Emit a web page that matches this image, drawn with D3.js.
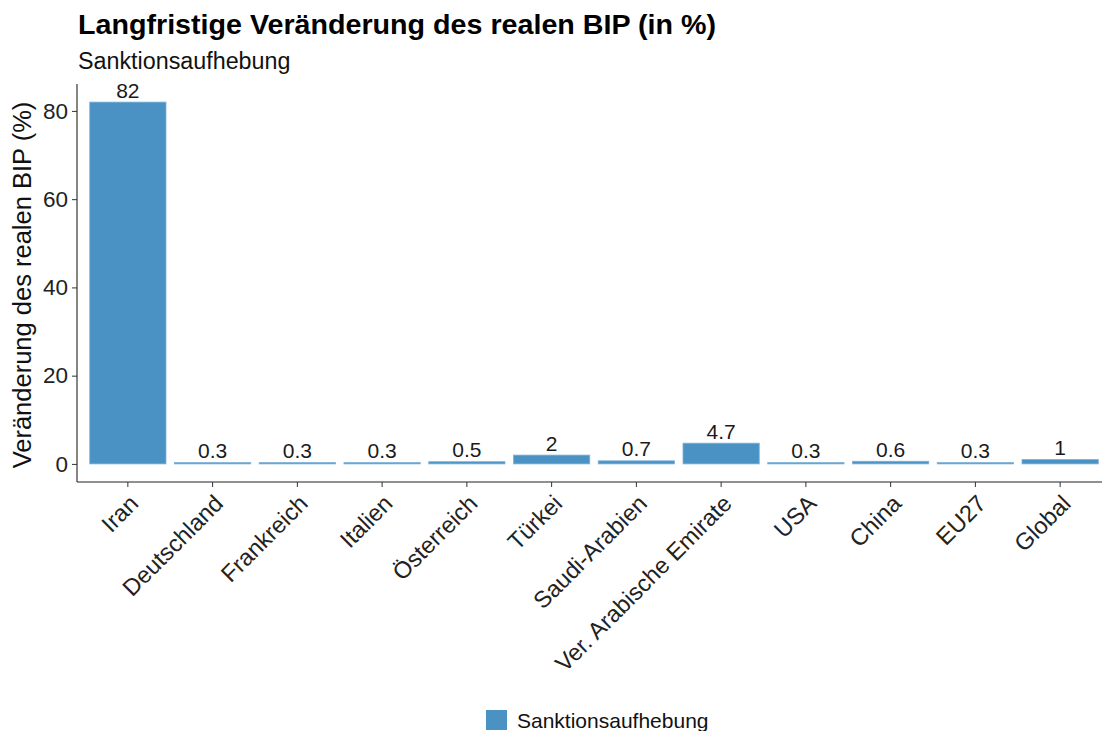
<!DOCTYPE html>
<html><head><meta charset="utf-8">
<script src="https://cdn.jsdelivr.net/npm/d3@7/dist/d3.min.js"></script>
<style>body{margin:0;background:#fff;} text{font-family:"Liberation Sans",Arial,Helvetica,sans-serif;}</style>
</head><body><svg id="c" width="1102" height="731"></svg>
<script>
const categories = ["Iran","Deutschland","Frankreich","Italien","Österreich","Türkei","Saudi-Arabien","Ver. Arabische Emirate","USA","China","EU27","Global"];
const values = [82,0.3,0.3,0.3,0.5,2,0.7,4.7,0.3,0.6,0.3,1];
const labels = ["82","0.3","0.3","0.3","0.5","2","0.7","4.7","0.3","0.6","0.3","1"];
const yTicks = [0,20,40,60,80];
const seriesName = "Sanktionsaufhebung";

(function(){
const svg = d3.select("#c");
const color = "#4a92c4";
const pl = 77, pr = 1111, pt = 84, pb = 482;

const maxV = d3.max(values);
const y = d3.scaleLinear().domain([-0.05*maxV, maxV*1.05]).range([pb, pt]);
const step = (pr-pl)/(categories.length + 0.2);
const x = d3.scaleBand().domain(categories)
  .range([pl + 0.6*step - step/2, pr - 0.6*step + step/2])
  .paddingInner(0.1).paddingOuter(0.05);

svg.selectAll("rect.bar").data(categories).join("rect")
  .attr("class","bar")
  .attr("x", d => x(d))
  .attr("width", x.bandwidth())
  .attr("y", (d,i) => y(values[i]))
  .attr("height", (d,i) => y(0) - y(values[i]))
  .attr("fill", color)
  .attr("stroke", "#7fb2d8").attr("stroke-width", 0.8);

svg.selectAll("text.val").data(categories).join("text")
  .attr("class","val")
  .attr("x", d => x(d) + x.bandwidth()/2)
  .attr("y", (d,i) => y(values[i]) - 4.4)
  .attr("text-anchor","middle")
  .attr("font-size", 21).attr("fill","#1a1a1a")
  .text((d,i) => labels[i]);

const yAxis = d3.axisLeft(y).tickValues(yTicks).tickSize(5).tickPadding(4);
const gy = svg.append("g").attr("transform",`translate(${pl},0)`).call(yAxis);
gy.select(".domain").attr("d", `M0,${pt}V${pb}`).attr("stroke","#222").attr("stroke-width",1.1);
gy.selectAll(".tick line").attr("stroke","#333");
gy.selectAll(".tick text").attr("font-size",22.5).attr("fill","#222")
  .attr("font-family","Liberation Sans, Arial, sans-serif");

const xAxis = d3.axisBottom(x).tickSize(5).tickPadding(4);
const gx = svg.append("g").attr("transform",`translate(0,${pb})`).call(xAxis);
gx.select(".domain").attr("d", `M${pl},0H${pr}`).attr("stroke","#222").attr("stroke-width",1.1);
gx.selectAll(".tick line").attr("stroke","#333");
gx.selectAll(".tick text").attr("font-size",23.5).attr("fill","#222")
  .attr("font-family","Liberation Sans, Arial, sans-serif")
  .attr("text-anchor","end").attr("dy",null).attr("y",null)
  .attr("transform","translate(12,23) rotate(-45)");

svg.append("text").attr("transform",`translate(31,285) rotate(-90)`)
  .attr("text-anchor","middle").attr("font-size",25.5).attr("fill","#111")
  .text("Veränderung des realen BIP (%)");

svg.append("text").attr("x",78).attr("y",34).attr("font-size",27).attr("font-weight","bold").attr("fill","#000")
  .attr("textLength",638).attr("lengthAdjust","spacingAndGlyphs")
  .text("Langfristige Veränderung des realen BIP (in %)");
svg.append("text").attr("x",78).attr("y",69).attr("font-size",23.3).attr("fill","#111")
  .text(seriesName);

svg.append("rect").attr("x",486).attr("y",710).attr("width",21).attr("height",20).attr("fill",color);
svg.append("text").attr("x",517).attr("y",728).attr("font-size",21).attr("fill","#111").text(seriesName);
})();
</script></body></html>
